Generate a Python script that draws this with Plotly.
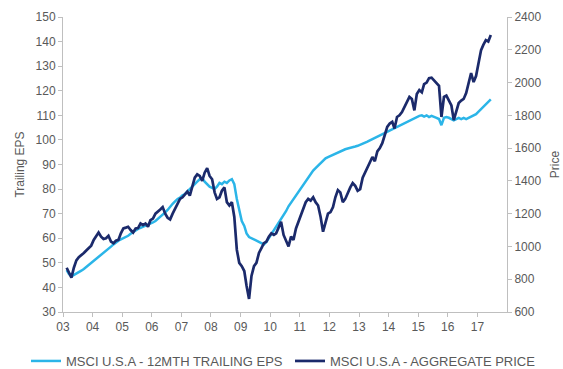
import plotly.graph_objects as go
import pandas as pd

# Monthly observations, Jan 2003 - May 2017
dates = pd.date_range("2003-01-15", periods=173, freq="MS") + pd.Timedelta(days=14)

price = [
    870, 840, 810, 870, 915, 935, 945, 960, 975, 990, 1005, 1040,
    1060, 1085, 1060, 1045, 1050, 1065, 1030, 1020, 1035, 1040, 1080, 1110,
    1115, 1120, 1100, 1085, 1110, 1112, 1140, 1130, 1140, 1120, 1160, 1170,
    1200, 1210, 1225, 1240, 1200, 1175, 1165, 1200, 1230, 1265, 1290, 1300,
    1320, 1335, 1310, 1370, 1420, 1440, 1430, 1400, 1450, 1478, 1430, 1410,
    1330, 1290, 1300, 1340, 1360, 1270, 1250, 1270, 1180, 980, 900, 880,
    850, 760, 680, 820, 880, 900, 960, 990, 1020, 1030, 1060, 1080,
    1070, 1080, 1120, 1150, 1070, 1030, 1000, 1060, 1040, 1110, 1150, 1200,
    1240, 1270, 1290, 1280, 1300, 1270, 1250, 1180, 1090, 1150, 1200, 1210,
    1240, 1300, 1344, 1330, 1270, 1290, 1330, 1360, 1387, 1370, 1340, 1350,
    1420, 1450, 1490, 1520, 1546, 1520, 1580, 1600, 1630, 1680, 1729, 1750,
    1760, 1720, 1790, 1800, 1820, 1850, 1880, 1912, 1900, 1830, 1930, 1954,
    1940, 1990, 2000, 2027, 2030, 2015, 2000, 1980, 1790, 1912, 1920, 1893,
    1860, 1771, 1830, 1875, 1890, 1900, 1936, 1990, 2058, 2003, 2040, 2119,
    2198, 2230, 2259, 2250, 2290,
]

eps = [
    47, 45.5, 44.5, 45, 45.5, 46, 46.8, 47.5, 48.3, 49, 49.8, 50.6,
    51.5, 52.3, 53, 53.8, 54.8, 55.7, 56.6, 57.5, 58.3, 59, 59.5, 60,
    60.3, 61, 61.8, 62.5, 63.2, 63.8, 64.2, 64.6, 65, 65.5, 66, 66.5,
    67, 67.8, 68.5, 69.5, 70.5, 71.5, 73, 74, 75, 76, 76.5, 77.5,
    78, 79, 80, 81, 82, 83, 84, 84.5, 83, 82, 81, 80.5,
    80, 81, 82.5, 82, 83, 82.5, 83.5, 84, 82, 76, 71, 67,
    65, 62, 60.5, 60, 59.5, 59, 58.5, 58, 57.5, 58.5, 60, 62,
    63.5, 65, 66.5, 68, 69.5, 71, 73, 74.5, 76, 77.5, 79, 80.5,
    81.5, 83, 84.5, 86, 87.5, 88.5, 89.5, 90.5, 91.5, 92.5, 93, 93.5,
    94, 94.5, 95, 95.5, 96, 96.2, 96.5, 96.7, 97, 97.3, 97.6, 98,
    98.3, 98.8, 99.3, 99.8, 100.3, 100.8, 101.3, 101.8, 102.3, 102.8, 103.3, 104,
    104.5, 105, 105.5, 106, 106.5, 107, 107.5, 108, 108.5, 109, 109.3, 109.8,
    110, 109.5, 110, 109.3, 109.8, 109.5, 109, 108.5, 106, 109, 109.3, 109,
    108.5, 108, 108.5, 109, 108.5, 109, 108.5, 109, 109.5, 110, 110.5, 111.5,
    112.5, 113.5, 114.5, 115.5, 116.5,
]

year_ticks = [f"{y}-01-01" for y in range(2003, 2018)]
year_labels = [f"{y % 100:02d}" for y in range(2003, 2018)]

eps_name = "MSCI U.S.A - 12MTH TRAILING EPS"
price_name = "MSCI U.S.A - AGGREGATE PRICE"

LIGHT = "#2BB5E8"
DARK = "#1B2A6B"
TXT = "#595959"
AX = "#BFBFBF"

fig = go.Figure()
fig.add_trace(go.Scatter(x=dates, y=eps, name=eps_name, mode="lines",
                         line=dict(color=LIGHT, width=2.5), yaxis="y", legend="legend"))
fig.add_trace(go.Scatter(x=dates, y=price, name=price_name, mode="lines",
                         line=dict(color=DARK, width=2.7), yaxis="y2", legend="legend2"))

font = dict(family="Liberation Sans, Arial, sans-serif", size=12, color=TXT)
leg_common = dict(orientation="h", xref="container", yref="container",
                  xanchor="left", y=8 / 369, yanchor="middle",
                  font=dict(size=13, color=TXT), itemwidth=30,
                  bgcolor="rgba(0,0,0,0)", borderwidth=0)

fig.update_layout(
    width=563, height=369,
    margin=dict(l=63, r=56, t=17, b=57, autoexpand=False),
    paper_bgcolor="white", plot_bgcolor="white",
    font=font,
    showlegend=True,
    legend=dict(x=26 / 563, **leg_common),
    legend2=dict(x=290 / 563, **leg_common),
    xaxis=dict(type="date", range=["2003-01-01", "2018-01-01"],
               tickmode="array", tickvals=year_ticks, ticktext=year_labels,
               showgrid=False, zeroline=False, showline=True, linecolor=AX, linewidth=1,
               ticks="outside", ticklen=4, tickcolor=AX, tickfont=font),
    yaxis=dict(range=[30, 150], dtick=10, tick0=30,
               showgrid=False, zeroline=False, showline=True, linecolor=AX, linewidth=1,
               ticks="outside", ticklen=4, tickcolor=AX, tickfont=font,
               title=dict(text="Trailing EPS", font=font, standoff=8)),
    yaxis2=dict(range=[600, 2400], dtick=200, tick0=600, overlaying="y", side="right",
                showgrid=False, zeroline=False, showline=True, linecolor=AX, linewidth=1,
                ticks="outside", ticklen=4, tickcolor=AX, tickfont=font,
                title=dict(text="Price", font=font, standoff=10)),
)

fig.write_html("out.html")
